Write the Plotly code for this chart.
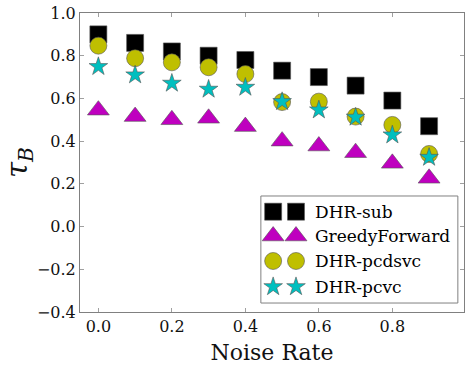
import plotly.graph_objects as go

noise_rate = [0.0, 0.1, 0.2, 0.3, 0.4, 0.5, 0.6, 0.7, 0.8, 0.9]
dhr_sub = [0.90, 0.86, 0.82, 0.80, 0.78, 0.73, 0.70, 0.66, 0.59, 0.47]
greedy_forward = [0.545, 0.515, 0.50, 0.507, 0.468, 0.40, 0.377, 0.346, 0.296, 0.226]
dhr_pcdsvc = [0.847, 0.788, 0.769, 0.746, 0.714, 0.583, 0.585, 0.515, 0.476, 0.34]
dhr_pcvc = [0.749, 0.71, 0.671, 0.643, 0.652, 0.585, 0.546, 0.512, 0.429, 0.324]

series_names = ["DHR-sub", "GreedyForward", "DHR-pcdsvc", "DHR-pcvc"]
series_values = [dhr_sub, greedy_forward, dhr_pcdsvc, dhr_pcvc]
styles = [
    dict(symbol="square", color="#000000", size=17),
    dict(symbol="triangle-up", color="#bf00bf", size=19),
    dict(symbol="circle", color="#bfbf00", size=17),
    dict(symbol="star", color="#00bfbf", size=14),
]

FONT = "DejaVu Serif"
fig = go.Figure()
for name, vals, st in zip(series_names, series_values, styles):
    fig.add_trace(go.Scatter(
        x=noise_rate, y=vals, mode="markers", name=name, showlegend=False,
        marker=dict(symbol=st["symbol"], color=st["color"], size=st["size"],
                    line=dict(color="#555555", width=0.6)),
    ))

# custom legend (two markers per entry, matplotlib style)
leg_box = dict(x0=0.471, x1=0.984, y0=0.030, y1=0.388)
leg_marker_x = [0.503, 0.5625]
leg_rows_y = [0.3355, 0.254, 0.1706, 0.0846]
leg_text_x = 0.607
fig.add_shape(type="rect", xref="paper", yref="paper", layer="below",
              line=dict(color="#808080", width=1), fillcolor="white", **leg_box)
for name, st, ry in zip(series_names, styles, leg_rows_y):
    fig.add_trace(go.Scatter(
        x=leg_marker_x, y=[ry, ry], xaxis="x2", yaxis="y2", mode="markers",
        showlegend=False, hoverinfo="skip",
        marker=dict(symbol=st["symbol"], color=st["color"], size=st["size"],
                    line=dict(color="#555555", width=0.6)),
    ))
    fig.add_annotation(x=leg_text_x, y=ry, xref="paper", yref="paper", text=name,
                       showarrow=False, xanchor="left", yanchor="middle",
                       font=dict(family=FONT, size=17, color="black"))

axis_common = dict(showline=True, linecolor="#808080", linewidth=1, mirror="ticks",
                   ticks="inside", ticklen=4, tickcolor="#a0a0a0", showgrid=False,
                   zeroline=False, tickfont=dict(family=FONT, size=16, color="#111111"))
fig.update_layout(
    width=466, height=367,
    margin=dict(l=80, r=2, t=13, b=55),
    plot_bgcolor="white", paper_bgcolor="white",
    xaxis=dict(range=[-0.05, 0.995], tickvals=[0.0, 0.2, 0.4, 0.6, 0.8],
               tickformat=".1f",
               title=dict(text="Noise Rate", font=dict(family=FONT, size=22, color="#111111"),
                          standoff=9),
               **axis_common),
    yaxis=dict(range=[-0.4, 1.0], tickvals=[-0.4, -0.2, 0.0, 0.2, 0.4, 0.6, 0.8, 1.0],
               tickformat=".1f",
               title=dict(text="<i>τ</i><sub><i>B</i></sub>",
                          font=dict(family=FONT, size=29, color="#111111"), standoff=9),
               **axis_common),
    xaxis2=dict(range=[0, 1], overlaying="x", visible=False),
    yaxis2=dict(range=[0, 1], overlaying="y", visible=False),
    showlegend=False,
)
fig.write_html("out.html")
